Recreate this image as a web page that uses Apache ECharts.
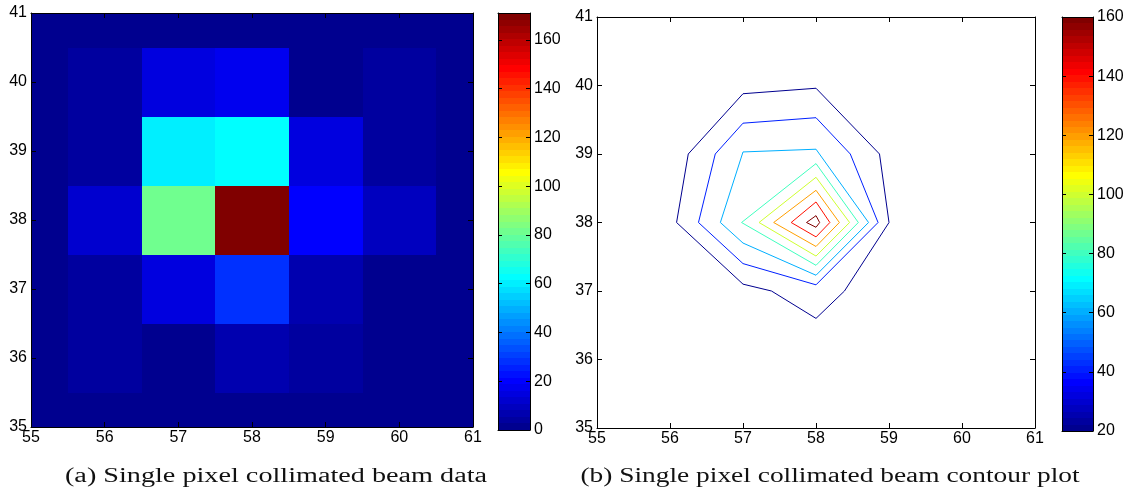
<!DOCTYPE html>
<html><head><meta charset="utf-8">
<script src="https://cdn.jsdelivr.net/npm/echarts@6/dist/echarts.min.js"></script>
<style>html,body{margin:0;padding:0;background:#fff}#c{width:1130px;height:498px}</style>
</head><body><div id="c"></div>
<script>
// ---------- data ----------
const xValues = [55, 56, 57, 58, 59, 60, 61];
const yValues = [41, 40, 39, 38, 37, 36, 35];
// pixel counts per row (x = 55..61)
const counts41 = [1, 1, 1, 1, 1, 1, 1];
const counts40 = [1, 4, 15, 18, 1, 4, 1];
const counts39 = [1, 5, 60, 63, 14, 4, 1];
const counts38 = [1, 12, 81, 171, 20, 9, 1];
const counts37 = [1, 4, 14, 28, 7, 2, 1];
const counts36 = [1, 4, 1, 8, 5, 2, 1];
const counts35 = [1, 1, 1, 1, 1, 1, 1];
const countRows = [counts41, counts40, counts39, counts38, counts37, counts36, counts35];
const colorbarA = [0, 171];            // colour limits of panel (a)
const colorbarB = [20, 160];           // colour limits of panel (b)
const contourLevels = [20, 40, 60, 80, 100, 120, 140, 160];
const contour20 = [[57,39.88],[58,39.96],[58.87,39],[59,38],[58.39,37],[58,36.6],[57.39,37],[57,37.1],[56.09,38],[56.25,39],[57,39.88]];
const contour40 = [[57,39.45],[58,39.53],[58.47,39],[58.85,38],[58,37.09],[57,37.4],[56.39,38],[56.62,39],[57,39.45]];
const contour60 = [[57,39.03],[58,39.07],[58.72,38],[58,37.23],[57,37.7],[56.69,38],[57,39.03]];
const contour80 = [[58,38.86],[58.58,38],[58,37.375],[56.98,38],[58,38.86]];
const contour100 = [[58,38.66],[58.46,38],[58,37.51],[57.22,38],[58,38.66]];
const contour120 = [[58,38.47],[58.32,38],[58,37.65],[57.42,38],[58,38.47]];
const contour140 = [[58,38.30],[58.19,38],[58,37.79],[57.66,38],[58,38.30]];
const contour160 = [[58,38.10],[58.05,38],[58,37.93],[57.87,38],[58,38.10]];
const contours = [contour20, contour40, contour60, contour80, contour100, contour120, contour140, contour160];
const captionA = '(a) Single pixel collimated beam data';
const captionB = '(b) Single pixel collimated beam contour plot';

// ---------- jet(64) colormap ----------
function jet(m) {
  const n = Math.ceil(m / 4), u = [];
  for (let i = 1; i <= n; i++) u.push(i / n);
  for (let i = 0; i < n - 1; i++) u.push(1);
  for (let i = n; i >= 1; i--) u.push(i / n);
  const g0 = Math.ceil(n / 2) - (m % 4 === 1 ? 1 : 0);
  const R = new Array(m).fill(0), G = new Array(m).fill(0), B = new Array(m).fill(0);
  for (let j = 1; j <= u.length; j++) {
    const gi = g0 + j, ri = gi + n, bi = gi - n;
    if (gi >= 1 && gi <= m) G[gi - 1] = u[j - 1];
    if (ri >= 1 && ri <= m) R[ri - 1] = u[j - 1];
    if (bi >= 1 && bi <= m) B[bi - 1] = u[j - 1];
  }
  const c = [];
  for (let i = 0; i < m; i++) c.push('rgb(' + Math.round(R[i]*255) + ',' + Math.round(G[i]*255) + ',' + Math.round(B[i]*255) + ')');
  return c;
}
const JET = jet(64);
function cIdx(v, lo, hi) { let k = Math.floor((v - lo) / (hi - lo) * 64); return Math.max(0, Math.min(63, k)); }

// ---------- build series data ----------
const heatData = [];
yValues.forEach((y, r) => xValues.forEach((x, c) => heatData.push([x, y, countRows[r][c]])));
function bands(lim) { const s = (lim[1] - lim[0]) / 64, d = []; for (let i = 0; i < 64; i++) d.push([lim[0] + i * s, lim[0] + (i + 1) * s, i]); return d; }
const pieces = [];
{ const s = (colorbarA[1] - colorbarA[0]) / 64;
  for (let i = 0; i < 64; i++) { const p = { gte: colorbarA[0] + i * s, color: JET[i] }; if (i < 63) p.lt = colorbarA[0] + (i + 1) * s; pieces.push(p); } }

const FONT = 'Liberation Sans, Arial, sans-serif';
function ax(dir, gridIndex, position, min, max, interval, labels, tickLen) {
  return {
    type: 'value', gridIndex, position, min, max, interval, z: 10,
    axisLine: { show: true, onZero: false, lineStyle: { color: '#000', width: 1 } },
    axisTick: { show: tickLen > 0, inside: true, length: tickLen, lineStyle: { color: '#000', width: 1 } },
    axisLabel: { show: labels, color: '#000', fontFamily: FONT, fontSize: 16, margin: dir === 'x' ? 3 : 4 },
    splitLine: { show: false }
  };
}

const grids = [
  { left: 31, top: 13, width: 442, height: 414 },
  { left: 498, top: 13, width: 32, height: 417 },
  { left: 597, top: 17, width: 438, height: 411 },
  { left: 1062, top: 17, width: 31, height: 414 }
];
const xAxis = [
  ax('x', 0, 'bottom', 55, 61, 1, true, 5),
  ax('x', 0, 'top', 55, 61, 1, false, 5),
  ax('x', 1, 'bottom', 0, 1, 1, false, 0),
  ax('x', 1, 'top', 0, 1, 1, false, 0),
  ax('x', 2, 'bottom', 55, 61, 1, true, 5),
  ax('x', 2, 'top', 55, 61, 1, false, 5),
  ax('x', 3, 'bottom', 0, 1, 1, false, 0),
  ax('x', 3, 'top', 0, 1, 1, false, 0)
];
const yAxis = [
  ax('y', 0, 'left', 35, 41, 1, true, 5),
  ax('y', 0, 'right', 35, 41, 1, false, 5),
  ax('y', 1, 'left', colorbarA[0], colorbarA[1], 20, false, 4),
  ax('y', 1, 'right', colorbarA[0], colorbarA[1], 20, true, 4),
  ax('y', 2, 'left', 35, 41, 1, true, 5),
  ax('y', 2, 'right', 35, 41, 1, false, 5),
  ax('y', 3, 'left', colorbarB[0], colorbarB[1], 20, false, 4),
  ax('y', 3, 'right', colorbarB[0], colorbarB[1], 20, true, 4)
];
yAxis[3].axisLabel.showMaxLabel = false;

function snapClip(params, p1, p2) {
  const cs = params.coordSys;
  const r = echarts.graphic.clipRectByRect(
    { x: p1[0], y: p1[1], width: p2[0] - p1[0], height: p2[1] - p1[1] },
    { x: cs.x, y: cs.y, width: cs.width, height: cs.height });
  if (!r) return null;
  const x0 = Math.round(r.x), y0 = Math.round(r.y), x1 = Math.round(r.x + r.width), y1 = Math.round(r.y + r.height);
  return { x: x0, y: y0, width: x1 - x0, height: y1 - y0 };
}

const series = [
  {
    type: 'custom', xAxisIndex: 0, yAxisIndex: 0, data: heatData, z: 2,
    renderItem(params, api) {
      const x = api.value(0), y = api.value(1);
      const r = snapClip(params, api.coord([x - 0.5, y + 0.5]), api.coord([x + 0.5, y - 0.5]));
      if (!r) return null;
      return { type: 'rect', shape: r, style: { fill: api.visual('color') } };
    }
  }
];
function colorbarSeries(xi, lim) {
  return {
    type: 'custom', xAxisIndex: xi, yAxisIndex: xi, data: bands(lim), z: 2, encode: { y: [0, 1] },
    renderItem(params, api) {
      const lo = api.value(0), hi = api.value(1), i = api.value(2);
      const r = snapClip(params, api.coord([0, hi]), api.coord([1, lo]));
      if (!r) return null;
      return { type: 'rect', shape: r, style: { fill: JET[i] } };
    }
  };
}
series.push(colorbarSeries(2, colorbarA));
series.push(colorbarSeries(6, colorbarB));
contours.forEach((c, k) => {
  const col = JET[cIdx(contourLevels[k], colorbarB[0], colorbarB[1])];
  series.push({
    type: 'line', name: String(contourLevels[k]), xAxisIndex: 4, yAxisIndex: 4, data: c,
    symbol: 'none', smooth: false, z: 3,
    lineStyle: { color: col, width: 1 }, itemStyle: { color: col }
  });
});

const chart = echarts.init(document.getElementById('c'), null, { renderer: 'canvas' });
chart.setOption({
  animation: false,
  backgroundColor: '#fff',
  grid: grids,
  xAxis, yAxis,
  visualMap: [{ type: 'piecewise', show: false, seriesIndex: 0, dimension: 2, pieces }],
  series,
  graphic: [
    { type: 'text', x: 276, y: 477, scaleX: 1.41, style: { text: captionA, font: '20px "Liberation Serif", "Times New Roman", serif', fill: '#111', textAlign: 'center', textVerticalAlign: 'middle' } },
    { type: 'text', x: 830, y: 477, scaleX: 1.37, style: { text: captionB, font: '20px "Liberation Serif", "Times New Roman", serif', fill: '#111', textAlign: 'center', textVerticalAlign: 'middle' } }
  ]
});
</script></body></html>
